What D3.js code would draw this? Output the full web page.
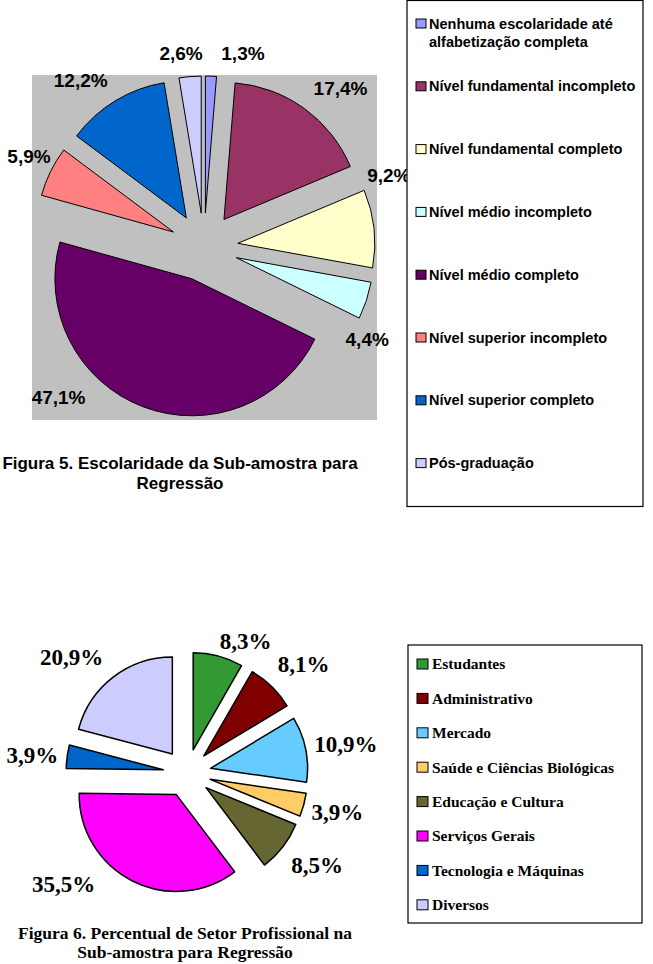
<!DOCTYPE html>
<html>
<head>
<meta charset="utf-8">
<script src="https://cdn.jsdelivr.net/npm/d3@7"></script>
<style>
  body { margin: 0; background: #fff; }
  svg { display: block; }
</style>
</head>
<body>
<svg id="chart"></svg>
<script>
// Two exploded pie charts (Figura 5 and Figura 6)

// Figura 5 data
const escolaridadeLabels = [
  "Nenhuma escolaridade até alfabetização completa",
  "Nível fundamental incompleto",
  "Nível fundamental completo",
  "Nível médio incompleto",
  "Nível médio completo",
  "Nível superior incompleto",
  "Nível superior completo",
  "Pós-graduação"
];
const escolaridadeValues = [1.3, 17.4, 9.2, 4.4, 47.1, 5.9, 12.2, 2.6];
const escolaridadeColors = ["#9999ff", "#993366", "#ffffcc", "#ccffff", "#660066", "#ff8080", "#0066cc", "#ccccff"];

// Figura 6 data
const setorLabels = [
  "Estudantes",
  "Administrativo",
  "Mercado",
  "Saúde e Ciências Biológicas",
  "Educação e Cultura",
  "Serviços Gerais",
  "Tecnologia e Máquinas",
  "Diversos"
];
const setorValues = [8.3, 8.1, 10.9, 3.9, 8.5, 35.5, 3.9, 20.9];
const setorColors = ["#339933", "#800000", "#66ccff", "#ffcc66", "#666633", "#ff00ff", "#0066cc", "#ccccff"];

const width = 653;
const height = 964;

const svg = d3.select("#chart")
    .attr("width", width)
    .attr("height", height)
    .attr("viewBox", [0, 0, width, height]);

svg.append("rect")
    .attr("width", width)
    .attr("height", height)
    .attr("fill", "#fff");

const fmt = v => d3.format(".1f")(v).replace(".", ",") + "%";

function drawPie(opts) {
  const pie = d3.pie().sort(null).value(d => d.value);
  const arc = d3.arc().innerRadius(0).outerRadius(opts.radius);
  const data = opts.values.map((v, i) => ({value: v, color: opts.colors[i], nudge: opts.nudges[i]}));
  const arcs = pie(data);

  const g = svg.append("g")
      .attr("transform", `translate(${opts.cx},${opts.cy})`);

  // slices, each pulled out along its mid angle
  g.selectAll("path")
    .data(arcs)
    .join("path")
      .attr("transform", d => {
        const a = (d.startAngle + d.endAngle) / 2;
        return `translate(${opts.explode * Math.sin(a)},${-opts.explode * Math.cos(a)})`;
      })
      .attr("d", arc)
      .attr("fill", d => d.data.color)
      .attr("stroke", "#000")
      .attr("stroke-width", opts.strokeWidth)
      .attr("stroke-linejoin", "round");

  // percentage labels
  g.selectAll("text")
    .data(arcs)
    .join("text")
      .attr("x", d => {
        const a = (d.startAngle + d.endAngle) / 2;
        return opts.labelRadius * Math.sin(a) + d.data.nudge[0];
      })
      .attr("y", d => {
        const a = (d.startAngle + d.endAngle) / 2;
        return -opts.labelRadius * Math.cos(a) + d.data.nudge[1];
      })
      .attr("dy", "0.36em")
      .attr("text-anchor", "middle")
      .attr("font-family", opts.font)
      .attr("font-weight", "bold")
      .attr("font-size", opts.labelSize)
      .attr("fill", "#000")
      .text(d => fmt(d.value));
}

function drawLegend(opts) {
  const lg = svg.append("g");
  lg.append("rect")
      .attr("x", opts.x)
      .attr("y", opts.y)
      .attr("width", opts.w)
      .attr("height", opts.h)
      .attr("fill", "#fff")
      .attr("stroke", "#000")
      .attr("stroke-width", 1.2);

  const item = lg.selectAll("g.item")
    .data(opts.labels)
    .join("g")
      .attr("class", "item")
      .attr("transform", (d, i) => `translate(${opts.x + 9},${opts.first + i * opts.step})`);

  item.append("rect")
      .attr("x", 0)
      .attr("y", -opts.sq[1] / 2)
      .attr("width", opts.sq[0])
      .attr("height", opts.sq[1])
      .attr("fill", (d, i) => opts.colors[i])
      .attr("stroke", "#000")
      .attr("stroke-width", 1);

  item.append("text")
      .attr("x", opts.textX)
      .attr("dy", "0.35em")
      .attr("font-family", opts.font)
      .attr("font-weight", "bold")
      .attr("font-size", opts.size)
      .attr("fill", "#000")
      .each(function(d) {
        const lines = opts.wrap[d] || [d];
        const t = d3.select(this);
        lines.forEach((line, k) => {
          t.append("tspan")
            .attr("x", opts.textX)
            .attr("dy", k === 0 ? "0.35em" : opts.lineH)
            .text(line);
        });
      });
}

function drawTitle(lines, x, y, lineH, font, size) {
  svg.append("g").selectAll("text")
    .data(lines)
    .join("text")
      .attr("x", x)
      .attr("y", (d, i) => y + i * lineH)
      .attr("dy", "0.35em")
      .attr("text-anchor", "middle")
      .attr("font-family", font)
      .attr("font-weight", "bold")
      .attr("font-size", size)
      .attr("fill", "#000")
      .text(d => d);
}

// ---- Figura 5 ----
svg.append("rect")
    .attr("x", 32)
    .attr("y", 75)
    .attr("width", 345)
    .attr("height", 345)
    .attr("fill", "#c0c0c0");

drawPie({
  values: escolaridadeValues,
  colors: escolaridadeColors,
  cx: 204, cy: 247, radius: 137, explode: 34,
  strokeWidth: 1,
  labelRadius: 195,
  nudges: [[31, 1], [22, -1], [-9, -51], [-22, 31], [-76, -32], [0, -5], [-22, 0], [-7, 0]],
  font: "Liberation Sans, Arial, sans-serif",
  labelSize: 19
});

drawLegend({
  labels: escolaridadeLabels,
  colors: escolaridadeColors,
  x: 407, y: 0.5, w: 236, h: 506,
  first: 23.5, step: 62.8,
  sq: [10, 9], textX: 13,
  font: "Liberation Sans, Arial, sans-serif",
  size: 14.5,
  lineH: 18,
  wrap: {"Nenhuma escolaridade até alfabetização completa": ["Nenhuma escolaridade até", "alfabetização completa"]}
});

drawTitle(["Figura 5. Escolaridade da Sub-amostra para", "Regressão"], 180, 463, 20,
  "Liberation Sans, Arial, sans-serif", 17);

// ---- Figura 6 ----
drawPie({
  values: setorValues,
  colors: setorColors,
  cx: 187, cy: 773, radius: 97, explode: 24,
  strokeWidth: 1.5,
  labelRadius: 158,
  nudges: [[18, 20], [6, 3], [4, 2], [-2, -3], [5, -5], [-52, -30], [2, 3], [-19, 9]],
  font: "Liberation Serif, Times New Roman, serif",
  labelSize: 23
});

drawLegend({
  labels: setorLabels,
  colors: setorColors,
  x: 408, y: 645, w: 234, h: 278,
  first: 664, step: 34.4,
  sq: [11, 10], textX: 15,
  font: "Liberation Serif, Times New Roman, serif",
  size: 15.5,
  lineH: 18,
  wrap: {}
});

drawTitle(["Figura 6. Percentual de Setor Profissional na", "Sub-amostra para Regressão"], 185, 933, 19,
  "Liberation Serif, Times New Roman, serif", 17.5);
</script>
</body>
</html>
